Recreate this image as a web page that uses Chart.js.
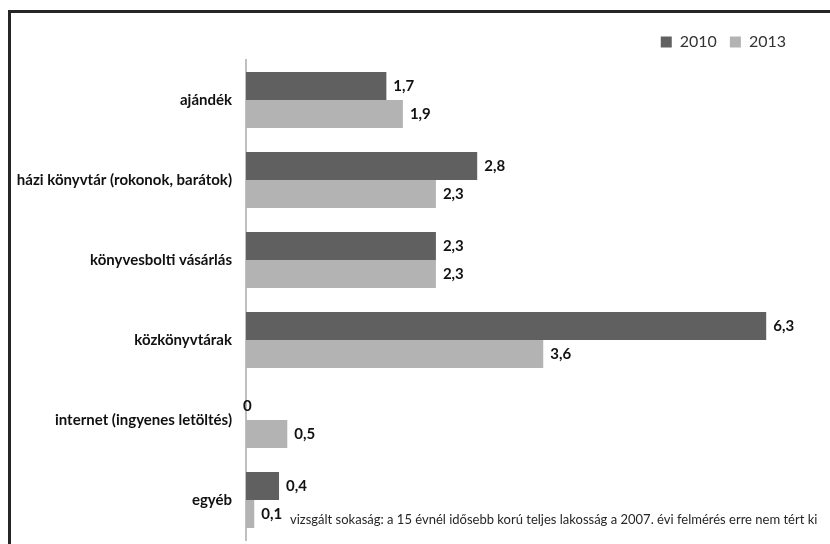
<!DOCTYPE html>
<html>
<head>
<meta charset="utf-8">
<script src="https://cdn.jsdelivr.net/npm/chart.js@4/dist/chart.umd.min.js"></script>
<style>
html,body{margin:0;padding:0;background:#fff;}
#wrap{width:830px;height:544px;position:relative;}
</style>
</head>
<body>
<div id="wrap"><canvas id="c" width="830" height="544"></canvas></div>
<script>
const categories = ["ajándék","házi könyvtár (rokonok, barátok)","könyvesbolti vásárlás","közkönyvtárak","internet (ingyenes letöltés)","egyéb"];
const seriesNames = ["2010","2013"];
const values2010 = [1.7, 2.8, 2.3, 6.3, 0, 0.4];
const values2013 = [1.9, 2.3, 2.3, 3.6, 0.5, 0.1];
const footnote = "vizsgált sokaság: a 15 évnél idősebb korú teljes lakosság a 2007. évi felmérés erre nem tért ki";
const FONT = "Lato, 'Open Sans', sans-serif";

const framePlugin = {
  id: 'frame',
  beforeDraw(chart){
    const ctx = chart.ctx;
    ctx.save();
    ctx.fillStyle = '#fff';
    ctx.fillRect(0,0,chart.width,chart.height);
    ctx.restore();
  },
  afterLayout(chart){
    if (chart.legend) {
      chart.legend.left -= 25;
      chart.legend.right -= 25;
    }
  },
  afterDraw(chart){
    const ctx = chart.ctx;
    ctx.save();
    ctx.strokeStyle = '#262626';
    ctx.lineWidth = 3;
    ctx.beginPath();
    ctx.moveTo(9.5, chart.height);
    ctx.lineTo(9.5, 11.5);
    ctx.lineTo(chart.width, 11.5);
    ctx.stroke();
    ctx.fillStyle = '#262626';
    ctx.font = "13px " + FONT;
    ctx.textBaseline = 'middle';
    ctx.textAlign = 'left';
    ctx.fillText(footnote, 290, 520);
    ctx.restore();
  }
};

const valueLabels = {
  id: 'valueLabels',
  afterDatasetsDraw(chart){
    const ctx = chart.ctx;
    ctx.save();
    ctx.font = "bold 15px " + FONT;
    ctx.fillStyle = '#111';
    ctx.textBaseline = 'middle';
    ctx.textAlign = 'left';
    chart.data.datasets.forEach((ds, di) => {
      const meta = chart.getDatasetMeta(di);
      meta.data.forEach((bar, i) => {
        const v = ds.data[i];
        const txt = String(v).replace('.', ',');
        const off = v === 0 ? -3 : 7;
        ctx.fillText(txt, bar.x + off, bar.y);
      });
    });
    ctx.restore();
  }
};

new Chart(document.getElementById('c'), {
  type: 'bar',
  data: {
    labels: categories,
    datasets: [
      {label: seriesNames[0], data: values2010, backgroundColor: '#606060', barPercentage: 1, categoryPercentage: 0.7},
      {label: seriesNames[1], data: values2013, backgroundColor: '#b3b3b3', barPercentage: 1, categoryPercentage: 0.7}
    ]
  },
  options: {
    indexAxis: 'y',
    responsive: false,
    animation: false,
    devicePixelRatio: 1,
    layout: {padding: {left: 0, right: 6, top: 21, bottom: 4}},
    plugins: {
      legend: {
        position: 'top',
        align: 'end',
        labels: {
          boxWidth: 11, boxHeight: 11, padding: 13,
          color: '#333',
          font: {family: FONT, size: 16}
        }
      },
      tooltip: {enabled: false}
    },
    scales: {
      x: {display: false, min: 0, max: 7, grid: {display: false, drawTicks: false}, ticks: {display: false},
          afterFit(s){ s.height = 0; }},
      y: {
        grid: {display: false, drawTicks: false},
        border: {display: true, color: '#bfbfbf', width: 2},
        ticks: {color: '#111', padding: 14, font: {family: FONT, size: 15, weight: 'bold'}},
        afterFit(s){ s.width = 246; s.paddingTop = 0; s.paddingBottom = 0; }
      }
    }
  },
  plugins: [framePlugin, valueLabels]
});
</script>
</body>
</html>
